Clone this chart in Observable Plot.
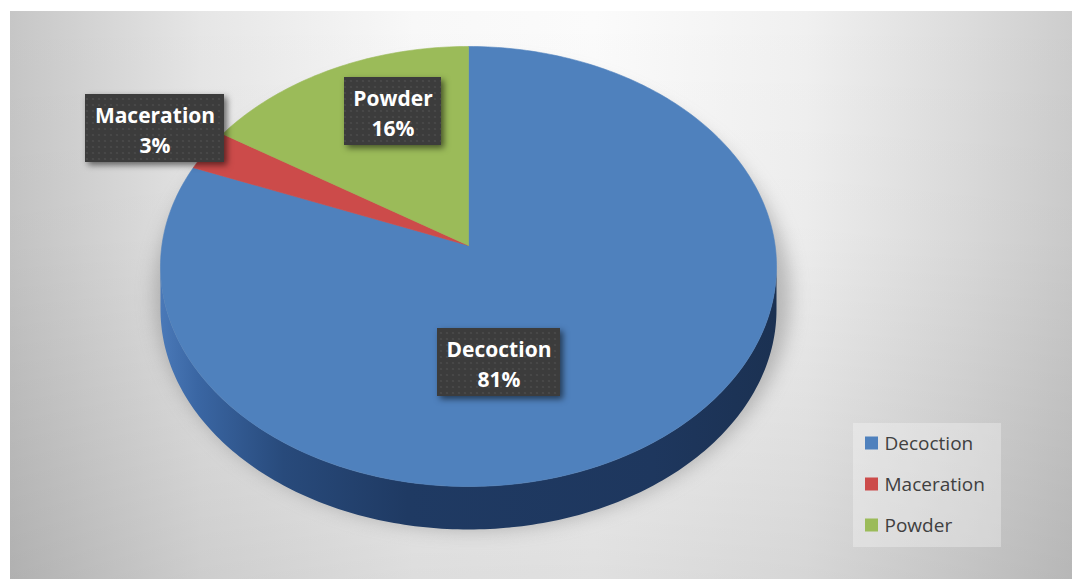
<!DOCTYPE html>
<html>
<head>
<meta charset="utf-8">
<script src="https://cdn.jsdelivr.net/npm/d3@7"></script>
<script src="https://cdn.jsdelivr.net/npm/@observablehq/plot@0.6"></script>
<style>
  body { margin: 0; background: #ffffff; }
  #wrap { position: relative; width: 1072px; height: 579px; overflow: hidden; }
  #bg { position: absolute; left: 10px; top: 11px; width: 1062px; height: 568px;
    background:
      linear-gradient(to bottom, rgba(0,0,0,0) 0%, rgba(0,0,0,0.02) 40%, rgba(0,0,0,0.11) 100%),
      linear-gradient(to right, #c6c6c6 0%, #e6e6e6 18%, #f8f8f8 38%, #fbfbfb 55%, #f0f0f0 75%, #dcdcdc 90%, #cdcdcd 100%);
  }
  #chart { position: absolute; left: 0; top: 0; }
</style>
</head>
<body>
<div id="wrap"><div id="bg"></div><div id="chart"></div></div>
<script>
// ---- data ----
const categories = ["Decoction", "Maceration", "Powder"];
const shares = [81, 3, 16];
const colours = ["#4f81bd", "#cc4b4a", "#9bbb59"];

// ---- layout (pixels) ----
const W = 1072, H = 579;
const cx = 468, cy = 266, rx = 308, ry = 220; // top-face ellipse
const vx = 468, vy = 245;                    // projected pie centre
const depth = 43;
const labelBoxes = [
  {x1: 437, x2: 560, y1: 328, y2: 396},
  {x1: 85,  x2: 224, y1: 94,  y2: 162},
  {x1: 344, x2: 441, y1: 77,  y2: 145}
];

function rimPoint(deg) {
  const th = deg * Math.PI / 180;
  const dx = rx * Math.sin(th), dy = -ry * Math.cos(th);
  const o = (vy - cy) / ry;
  const a = (dx / rx) ** 2 + (dy / ry) ** 2, b = 2 * (dy / ry) * o, c = o * o - 1;
  const t = (-b + Math.sqrt(b * b - 4 * a * c)) / (2 * a);
  return [vx + dx * t, vy + dy * t];
}

const total = d3.sum(shares);
const sliceRows = [];
let cum = 0;
categories.forEach((name, i) => {
  const a0 = cum / total * 360, a1 = (cum + shares[i]) / total * 360;
  cum += shares[i];
  sliceRows.push({name, x: vx, y: vy});
  const n = Math.max(2, Math.ceil(a1 - a0));
  for (let k = 0; k <= n; k++) {
    const [x, y] = rimPoint(a0 + (a1 - a0) * k / n);
    sliceRows.push({name, x, y});
  }
  sliceRows.push({name, x: vx, y: vy});
});

// side wall (front half of the rim extruded downward)
const sideRows = [];
for (let p = 90; p <= 270; p += 1) {
  const t = p * Math.PI / 180;
  sideRows.push({x: cx + rx * Math.sin(t), y: cy - ry * Math.cos(t)});
}
for (let p = 270; p >= 90; p -= 1) {
  const t = p * Math.PI / 180;
  sideRows.push({x: cx + rx * Math.sin(t), y: cy - ry * Math.cos(t) + depth});
}

// shadow
const shadowRows = [];
for (let p = 0; p <= 360; p += 2) {
  const t = p * Math.PI / 180;
  shadowRows.push({x: cx + 4 + (rx + 10) * Math.sin(t), y: cy + depth / 2 + 8 - (ry + 14) * Math.cos(t)});
}

const labelRows = categories.map((name, i) => ({
  name, text: name + "\n" + shares[i] + "%",
  ...labelBoxes[i],
  x: (labelBoxes[i].x1 + labelBoxes[i].x2) / 2,
  y: (labelBoxes[i].y1 + labelBoxes[i].y2) / 2
}));

const legendRows = categories.map((name, i) => ({name, i}));
const legX = 865, legY0 = 443, legStep = 41;

const chart = Plot.plot({
  width: W, height: H, margin: 0,
  style: {background: "transparent", overflow: "visible"},
  x: {domain: [0, W], range: [0, W], axis: null},
  y: {domain: [0, H], range: [0, H], axis: null},
  color: {domain: categories, range: colours},
  marks: [
    Plot.line(shadowRows, {x: "x", y: "y", fill: "#7a7a7a", fillOpacity: 0.45, stroke: "none", imageFilter: "blur(9px)"}),
    Plot.line(sideRows, {x: "x", y: "y", fill: "url(#sideGrad)", stroke: "none"}),
    Plot.line(sliceRows, {x: "x", y: "y", z: "name", fill: "name", stroke: "name", strokeWidth: 0.6}),
    Plot.rect(labelRows, {x1: "x1", x2: "x2", y1: "y1", y2: "y2", fill: "url(#dots)", imageFilter: "drop-shadow(3px 3px 3px rgba(0,0,0,0.55))"}),
    Plot.text(labelRows, {x: "x", y: "y", text: "text", fill: "#ffffff", fontSize: 21, fontWeight: "bold", fontFamily: "Open Sans", lineHeight: 1.43}),
    // legend
    Plot.rect([0], {x1: 853, x2: 1001, y1: 423, y2: 547, fill: "#ffffff", fillOpacity: 0.3}),
    Plot.rect(legendRows, {x1: legX, x2: legX + 13, y1: d => legY0 + d.i * legStep - 6.5, y2: d => legY0 + d.i * legStep + 6.5, fill: "name"}),
    Plot.text(legendRows, {x: legX + 19, y: d => legY0 + d.i * legStep, text: "name", textAnchor: "start", fill: "#404040", fontSize: 19, fontFamily: "Open Sans"})
  ]
});

chart.insertAdjacentHTML("afterbegin", `
<defs>
  <pattern id="dots" width="6" height="6" patternUnits="userSpaceOnUse">
    <rect width="6" height="6" fill="#3c3c3c"></rect>
    <circle cx="3" cy="3" r="1.1" fill="#4a4a4a"></circle>
  </pattern>
  <linearGradient id="sideGrad" x1="0" x2="1" y1="0" y2="0">
    <stop offset="0" stop-color="#4a79b8"></stop>
    <stop offset="0.06" stop-color="#3a66a3"></stop>
    <stop offset="0.2" stop-color="#284a7b"></stop>
    <stop offset="0.4" stop-color="#1f3a63"></stop>
    <stop offset="0.8" stop-color="#1e375e"></stop>
    <stop offset="1" stop-color="#1b3152"></stop>
  </linearGradient>
</defs>`);
document.getElementById("chart").appendChild(chart);
</script>
</body>
</html>
